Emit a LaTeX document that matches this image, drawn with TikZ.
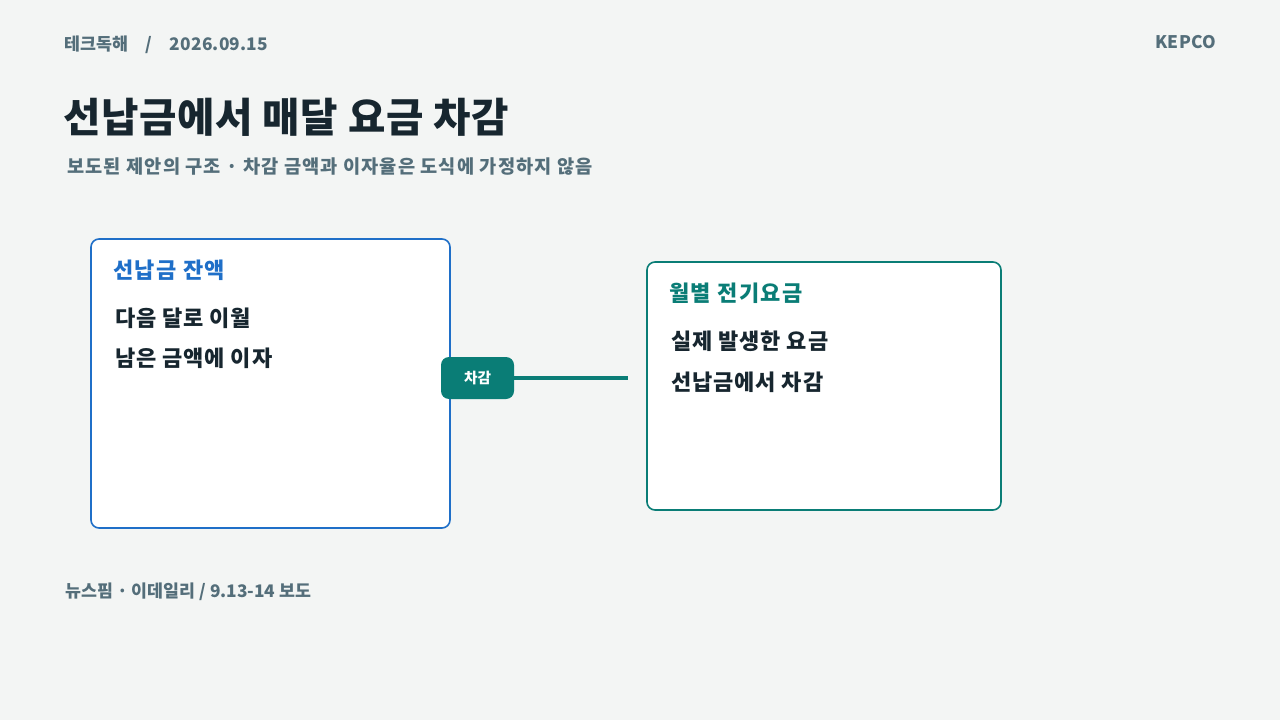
\documentclass[tikz,border=0pt]{standalone}
\usepackage{fontspec}
\setmainfont{Noto Sans CJK KR}
\usetikzlibrary{positioning}

\definecolor{bgpaper}{HTML}{F3F5F4}
\definecolor{inkdark}{HTML}{17262F}
\definecolor{inkgray}{HTML}{546E7A}
\definecolor{blueline}{HTML}{1F6FC8}
\definecolor{tealline}{HTML}{0A7D76}

\tikzset{
  meta/.style={inkgray,font=\fontsize{13}{15}\selectfont\bfseries\addfontfeatures{LetterSpace=1},inner sep=0pt},
  cardbox/.style={draw,fill=white,line width=1.2pt,rounded corners=6pt,inner sep=0pt},
  cardtitle/.style={font=\fontsize{16.5}{19}\selectfont\bfseries\addfontfeatures{LetterSpace=6.5},inner sep=0pt,anchor=west},
  cardline/.style={inkdark,font=\fontsize{16.5}{19}\selectfont\bfseries\addfontfeatures{LetterSpace=4},inner sep=0pt,anchor=west},
  tag/.style={fill=tealline,text=white,rounded corners=6pt,font=\fontsize{11}{13}\selectfont\bfseries,
    minimum width=54.75pt,minimum height=31.5pt,inner sep=0pt}
}

\begin{document}
\begin{tikzpicture}[x=0.75pt,y=-0.75pt]
    
    \def\W{1280}
    \def\H{720}
    \fill[bgpaper] (0,0) rectangle (\W,\H);
    \useasboundingbox (0,0) rectangle (\W,\H);
    
    % header
    \node[meta,anchor=west] (series) at (64,45) {테크독해\quad/\quad2026.09.15};
    \node[meta,anchor=east] (org) at (1216,42) {KEPCO};
    
    \node[inkdark,font=\fontsize{30.5}{34}\selectfont\bfseries\addfontfeatures{LetterSpace=1.5},inner sep=0pt,anchor=west] (title) at (63,117) {선납금에서 매달 요금 차감};
    \node[meta,font=\fontsize{14}{16}\selectfont\bfseries\addfontfeatures{LetterSpace=6},anchor=west] (subtitle) at (67,167) {보도된 제안의 구조 · 차감 금액과 이자율은 도식에 가정하지 않음};
    
    % cards
    \node[cardbox,draw=blueline,minimum width=269.25pt,minimum height=216.75pt] (prepaid) at (270.5,383.5) {};
    \node[cardbox,draw=tealline,minimum width=265.5pt,minimum height=186pt] (monthly) at (824,386) {};
    
    \node[cardtitle,blueline] (prepaidhead) at (113,270) {선납금 잔액};
    \node[cardline] (carry) at (115,318) {다음 달로 이월};
    \node[cardline] (interest) at (115,358) {남은 금액에 이자};
    
    \node[cardtitle,tealline] (monthlyhead) at (669,293) {월별 전기요금};
    \node[cardline] (actual) at (671,341) {실제 발생한 요금};
    \node[cardline] (deduct) at (671,382) {선납금에서 차감};
    
    % link
    \node[tag] (cut) at (477.5,378) {차감};
    \coordinate (cutend) at (628,378);
    \draw[tealline,line width=3pt] (cut.east) -- (cutend);
    
    % source
    \node[meta,font=\fontsize{13}{15}\selectfont\bfseries,anchor=west] (source) at (65,592) {뉴스핌 · 이데일리 / 9.13-14 보도};
    
\end{tikzpicture}
\end{document}
